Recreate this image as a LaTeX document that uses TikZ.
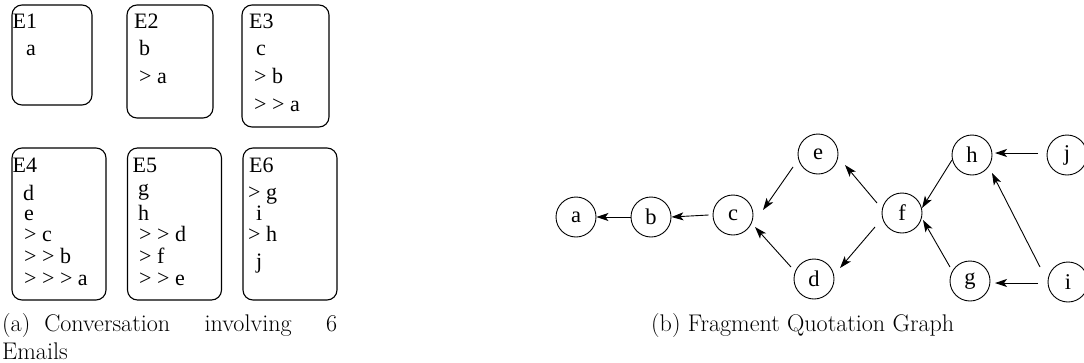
\documentclass[tikz,border=0pt]{standalone}
\usepackage{fontspec}
\newfontfamily\tms{Liberation Serif}
\usetikzlibrary{arrows.meta,calc}
\tikzset{
  mailbox/.style={draw, rounded corners=10pt, line width=1.1pt, inner sep=0pt},
  tx/.style={font=\tms\fontsize{22}{26}\selectfont, anchor=base west, inner sep=0pt},
  gn/.style={circle, draw, line width=0.9pt, minimum size=40pt, inner sep=0pt, font=\tms\fontsize{22.5}{26}\selectfont},
  arr/.style={-{Stealth[length=12pt,width=8pt,inset=3pt]}, line width=0.9pt},
  captext/.style={font=\fontsize{24.1}{29}\selectfont, anchor=base west, inner sep=0pt}
}
\begin{document}
\begin{tikzpicture}[x=1pt,y=-1pt]
\useasboundingbox (0,0) rectangle (1084,362);
% email boxes
\node[mailbox, minimum width=80pt, minimum height=100pt] (B1) at (52,55) {};
\node[mailbox, minimum width=86pt, minimum height=113pt] (B2) at (170,61.5) {};
\node[mailbox, minimum width=87pt, minimum height=122pt] (B3) at (285.5,66) {};
\node[mailbox, minimum width=94pt, minimum height=152pt] (B4) at (59,224) {};
\node[mailbox, minimum width=94pt, minimum height=152pt] (B5) at (174.5,224) {};
\node[mailbox, minimum width=94pt, minimum height=152pt] (B6) at (290,224) {};
% E1
\node[tx] (t11) at (12.5,28) {E1};
\node[tx] (t12) at (26,55) {a};
% E2
\node[tx] (t21) at (134,28) {E2};
\node[tx] (t22) at (139,55) {b};
\node[tx] (t23) at (139,83) {> a};
% E3
\node[tx] (t31) at (249,28) {E3};
\node[tx] (t32) at (256,55) {c};
\node[tx] (t33) at (254,83) {> b};
\node[tx] (t34) at (254,111.5) {> > a};
% E4
\node[tx] (t41) at (12.5,172) {E4};
\node[tx] (t42) at (23,200) {d};
\node[tx] (t43) at (24,220) {e};
\node[tx] (t44) at (24,241.5) {> c};
\node[tx] (t45) at (24,263) {> > b};
\node[tx] (t46) at (24,285) {> > > a};
% E5
\node[tx] (t51) at (132.5,172) {E5};
\node[tx] (t52) at (138,195) {g};
\node[tx] (t53) at (138,220) {h};
\node[tx] (t54) at (139,241.5) {> > d};
\node[tx] (t55) at (139,263) {> f};
\node[tx] (t56) at (139,285) {> > e};
% E6
\node[tx] (t61) at (249,172) {E6};
\node[tx] (t62) at (248,199) {> g};
\node[tx] (t63) at (256,220) {i};
\node[tx] (t64) at (248,241.5) {> h};
\node[tx] (t65) at (256,268) {j};
% caption a
\node[captext] (capa1) at (2,331) {\makebox[335pt][s]{(a)\hspace{14pt}Conversation involving 6}};
\node[captext] (capa2) at (2,359.5) {Emails};
% graph
\node[gn] (a) at (576,217) {a};
\node[gn] (b) at (651,217) {b};
\node[gn] (c) at (733,215) {c};
\node[gn] (e) at (818,154) {e};
\node[gn] (d) at (814,279) {d};
\node[gn] (f) at (902,213) {f};
\node[gn] (h) at (972,155) {h};
\node[gn] (j) at (1067,155) {j};
\node[gn] (g) at (970,281) {g};
\node[gn] (i) at (1068,282) {i};
\draw[arr] (b.west) -- (a.east);
\draw[arr] ($(c.west)+(-4,0)$) -- (b.east);
\draw[arr] ($(e)+(-25,13)$) -- ($(c)+(30,-5)$);
\draw[arr] ($(d)+(-23,-12)$) -- ($(c)+(22,12)$);
\draw[arr] ($(f)+(-25,-10)$) -- ($(e)+(27,11)$);
\draw[arr] ($(f)+(-27,14)$) -- ($(d)+(26,-11)$);
\draw[arr] ($(h)+(-20,5)$) -- ($(f)+(20,-5)$);
\draw[arr] ($(g)+(-20,-14)$) -- ($(f)+(21,7)$);
\draw[arr] ($(j)+(-29,-2)$) -- ($(h)+(23,-2)$);
\draw[arr] ($(i)+(-30,1)$) -- ($(g)+(25,2)$);
\draw[arr] ($(i)+(-28,-15)$) -- ($(h)+(20,18)$);
% caption b
\node[captext] (capb) at (651,331.5) {(b) Fragment Quotation Graph};
\end{tikzpicture}
\end{document}
